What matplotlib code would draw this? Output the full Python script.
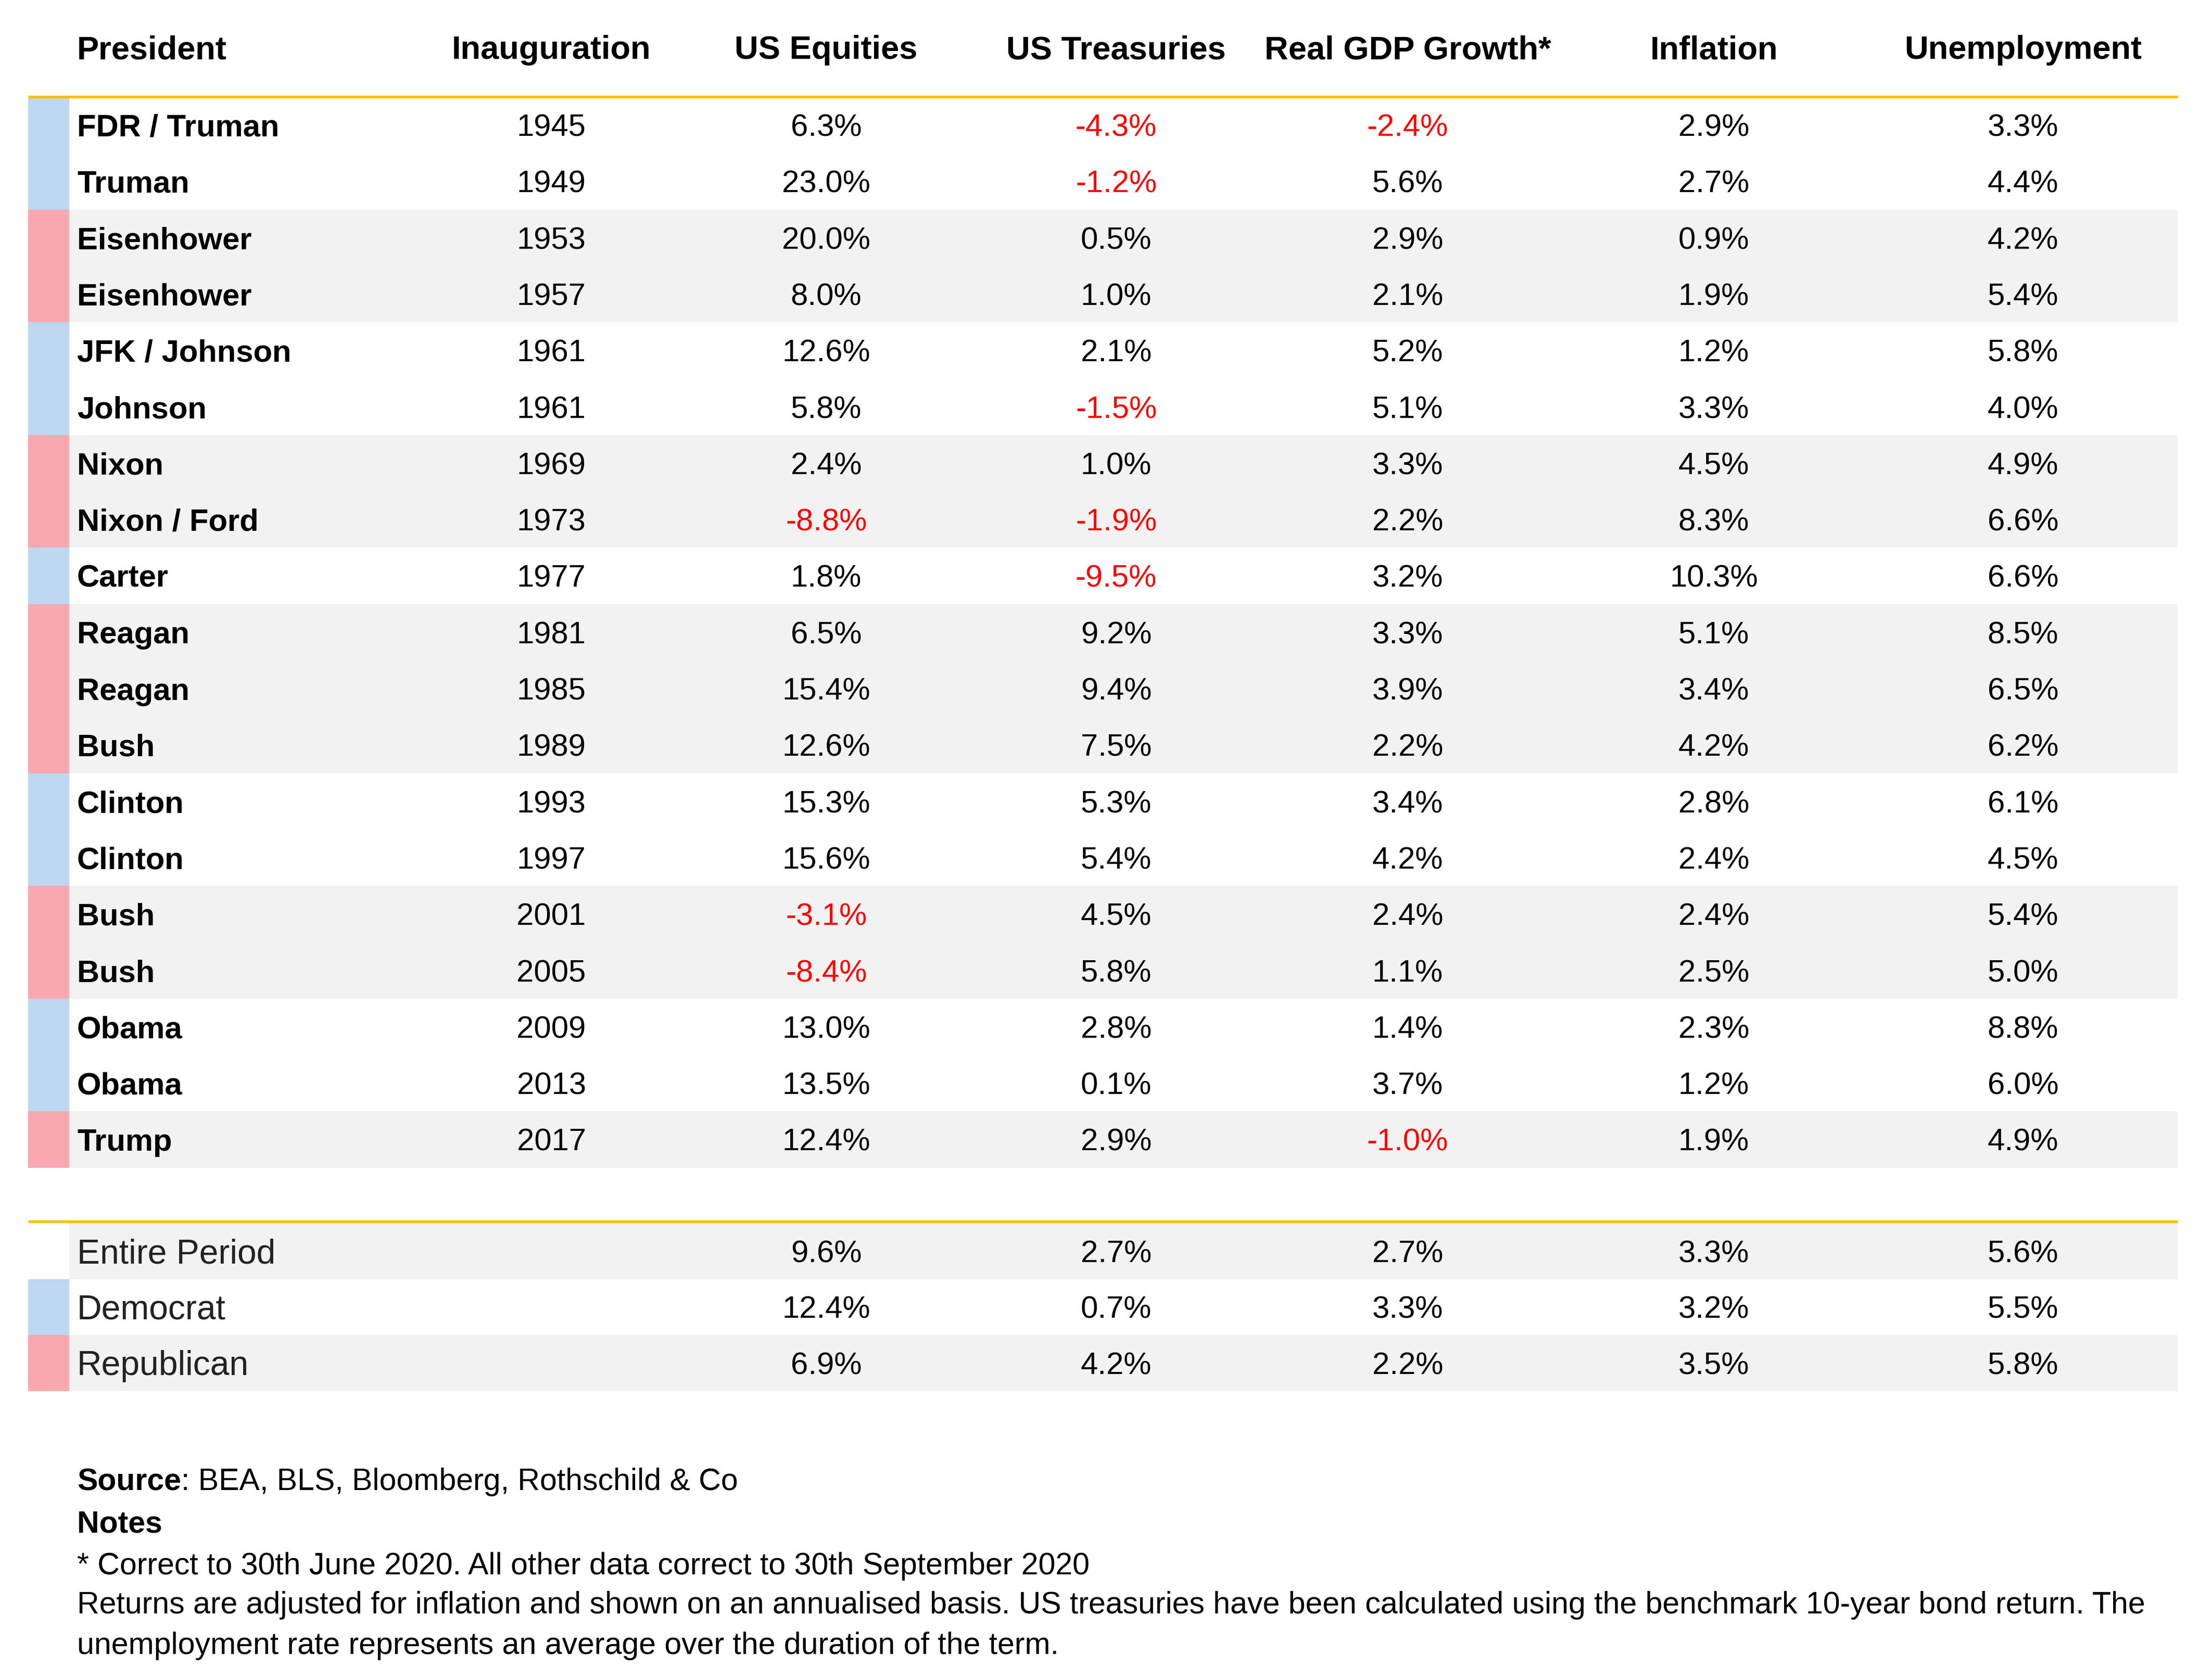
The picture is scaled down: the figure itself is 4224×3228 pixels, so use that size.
import matplotlib.pyplot as plt
from matplotlib.patches import Rectangle

plt.rcParams['font.family'] = ['Liberation Sans', 'DejaVu Sans']

# table data
presidents = ['FDR / Truman', 'Truman', 'Eisenhower', 'Eisenhower', 'JFK / Johnson', 'Johnson',
              'Nixon', 'Nixon / Ford', 'Carter', 'Reagan', 'Reagan', 'Bush', 'Clinton', 'Clinton',
              'Bush', 'Bush', 'Obama', 'Obama', 'Trump']
inauguration = [1945, 1949, 1953, 1957, 1961, 1961, 1969, 1973, 1977, 1981, 1985, 1989,
                1993, 1997, 2001, 2005, 2009, 2013, 2017]
party = ['D', 'D', 'R', 'R', 'D', 'D', 'R', 'R', 'D', 'R', 'R', 'R', 'D', 'D', 'R', 'R', 'D', 'D', 'R']
equities = [6.3, 23.0, 20.0, 8.0, 12.6, 5.8, 2.4, -8.8, 1.8, 6.5, 15.4, 12.6, 15.3, 15.6, -3.1, -8.4, 13.0, 13.5, 12.4]
treasuries = [-4.3, -1.2, 0.5, 1.0, 2.1, -1.5, 1.0, -1.9, -9.5, 9.2, 9.4, 7.5, 5.3, 5.4, 4.5, 5.8, 2.8, 0.1, 2.9]
gdp_growth = [-2.4, 5.6, 2.9, 2.1, 5.2, 5.1, 3.3, 2.2, 3.2, 3.3, 3.9, 2.2, 3.4, 4.2, 2.4, 1.1, 1.4, 3.7, -1.0]
inflation = [2.9, 2.7, 0.9, 1.9, 1.2, 3.3, 4.5, 8.3, 10.3, 5.1, 3.4, 4.2, 2.8, 2.4, 2.4, 2.5, 2.3, 1.2, 1.9]
unemployment = [3.3, 4.4, 4.2, 5.4, 5.8, 4.0, 4.9, 6.6, 6.6, 8.5, 6.5, 6.2, 6.1, 4.5, 5.4, 5.0, 8.8, 6.0, 4.9]

summary_labels = ['Entire Period', 'Democrat', 'Republican']
summary_party = [None, 'D', 'R']
summary_equities = [9.6, 12.4, 6.9]
summary_treasuries = [2.7, 0.7, 4.2]
summary_gdp = [2.7, 3.3, 2.2]
summary_inflation = [3.3, 3.2, 3.5]
summary_unemployment = [5.6, 5.5, 5.8]

headers = ['President', 'Inauguration', 'US Equities', 'US Treasuries', 'Real GDP Growth*',
           'Inflation', 'Unemployment']

notes = ['* Correct to 30th June 2020. All other data correct to 30th September 2020',
         'Returns are adjusted for inflation and shown on an annualised basis. US treasuries have been '
         'calculated using the benchmark 10-year bond return. The',
         'unemployment rate represents an average over the duration of the term.']

# layout (pixels)
W, H = 4224, 3228
DPI = 100
NAME_X = 148
COL_X = [1059, 1587, 2144, 2704, 3292, 3886]
LEFT, BAR_R, RIGHT = 54, 133, 4183
TOP, ROW_H = 186, 108.3
SUM_TOP, SUM_H = 2350, 107.5

BLUE = '#BDD7EE'
PINK = '#F9A8B1'
GREY = '#F2F2F2'
YELLOW = '#FFC000'
RED = '#FF0000'

FS_HEAD = 45.5
FS_BODY = 43
FS_SUM = 47.5
FS_NOTE = 42.5


def base(center, fs):
    # baseline so that cap height is centred on 'center'
    return center + 0.716 * fs * DPI / 72 / 2


def pct(v):
    return f'{v:.1f}%'


def party_runs(p):
    # group consecutive rows of the same party into blocks
    runs, start = [], 0
    for i in range(1, len(p) + 1):
        if i == len(p) or p[i] != p[start]:
            runs.append((start, i - start, p[start]))
            start = i
    return runs


fig = plt.figure(figsize=(W / DPI, H / DPI), dpi=DPI)
ax = fig.add_axes([0, 0, 1, 1])
ax.set_xlim(0, W)
ax.set_ylim(H, 0)
ax.axis('off')

# header
ax.text(NAME_X, 113, headers[0], fontsize=FS_HEAD, fontweight='bold', va='baseline', ha='left')
for x, h in zip(COL_X, headers[1:]):
    ax.text(x, 113, h, fontsize=FS_HEAD, fontweight='bold', va='baseline', ha='center')

# party blocks: colour bar + grey band for republican terms
for start, n, p in party_runs(party):
    y0 = TOP + start * ROW_H
    ax.add_patch(Rectangle((LEFT, y0), BAR_R - LEFT, n * ROW_H, color=BLUE if p == 'D' else PINK, lw=0))
    if p == 'R':
        ax.add_patch(Rectangle((BAR_R, y0), RIGHT - BAR_R, n * ROW_H, color=GREY, lw=0))

# body rows
cols = [equities, treasuries, gdp_growth, inflation, unemployment]
for i, name in enumerate(presidents):
    yc = TOP + (i + 0.5) * ROW_H
    yb = base(yc, FS_BODY)
    ax.text(NAME_X, yb, name, fontsize=FS_BODY, fontweight='bold', va='baseline', ha='left')
    ax.text(COL_X[0], yb, str(inauguration[i]), fontsize=FS_BODY, va='baseline', ha='center')
    for x, col in zip(COL_X[1:], cols):
        v = col[i]
        ax.text(x, yb, pct(v), fontsize=FS_BODY, va='baseline', ha='center',
                color=RED if v < 0 else 'black')

ax.hlines(186, LEFT, RIGHT, color=YELLOW, lw=3.8)

# summary rows
sum_cols = [summary_equities, summary_treasuries, summary_gdp, summary_inflation, summary_unemployment]
for i, lab in enumerate(summary_labels):
    y0 = SUM_TOP + i * SUM_H
    yc = y0 + SUM_H / 2
    if summary_party[i] is not None:
        ax.add_patch(Rectangle((LEFT, y0), BAR_R - LEFT, SUM_H,
                               color=BLUE if summary_party[i] == 'D' else PINK, lw=0))
    if i % 2 == 0:
        ax.add_patch(Rectangle((BAR_R, y0), RIGHT - BAR_R, SUM_H, color=GREY, lw=0))
    ax.text(NAME_X, base(yc, FS_SUM), lab, fontsize=FS_SUM, va='baseline', ha='left', color='#222222')
    yb = base(yc, FS_BODY)
    for x, col in zip(COL_X[1:], sum_cols):
        v = col[i]
        ax.text(x, yb, pct(v), fontsize=FS_BODY, va='baseline', ha='center',
                color=RED if v < 0 else 'black')

ax.hlines(SUM_TOP - 3, LEFT, RIGHT, color=YELLOW, lw=3.8)

# footer
renderer = fig.canvas.get_renderer()
t = ax.text(NAME_X, base(2842, FS_NOTE), 'Source', fontsize=FS_NOTE, fontweight='bold', va='baseline')
w = t.get_window_extent(renderer).width
ax.text(NAME_X + w, base(2842, FS_NOTE), ': BEA, BLS, Bloomberg, Rothschild & Co', fontsize=FS_NOTE,
        va='baseline')
ax.text(NAME_X, base(2923, FS_NOTE), 'Notes', fontsize=FS_NOTE, fontweight='bold', va='baseline')
for yc, line in zip([3004, 3079, 3157], notes):
    ax.text(NAME_X, base(yc, FS_NOTE), line, fontsize=FS_NOTE, va='baseline')

fig.savefig('out.png', dpi=DPI, facecolor='white')
